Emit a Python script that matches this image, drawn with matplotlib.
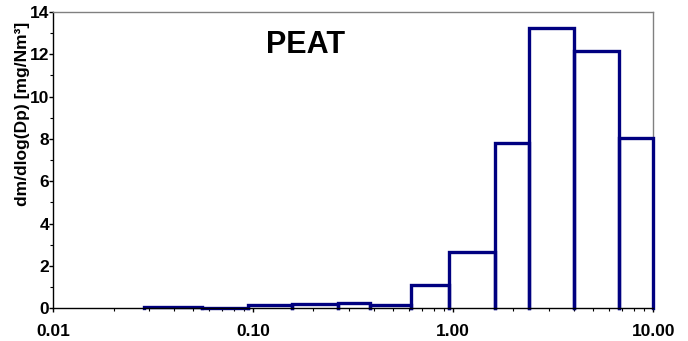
import matplotlib
matplotlib.use("Agg")
import matplotlib.pyplot as plt
import numpy as np
from matplotlib.ticker import FixedLocator, MultipleLocator, LogLocator, NullFormatter

plt.rcParams['font.family'] = ['Liberation Sans', 'DejaVu Sans']
plt.rcParams['font.weight'] = 'bold'

# ELPI stage cut points (um) and measured mass size distribution
edges = [0.0283, 0.0556, 0.0945, 0.157, 0.264, 0.384, 0.616, 0.952, 1.61, 2.40, 4.01, 6.71, 10.0]
dm_dlogdp = [0.07, 0.03, 0.17, 0.19, 0.24, 0.14, 1.09, 2.66, 7.83, 13.26, 12.17, 8.06]
xtick_vals = [0.01, 0.1, 1, 10]
xtick_labels = ["0.01", "0.10", "1.00", "10.00"]

fig = plt.figure(figsize=(6.88, 3.41), dpi=100)
ax = fig.add_axes([0.0775, 0.096, 0.872, 0.869])

# each bar drawn as an open outline (no bottom edge), like the original
for i, h in enumerate(dm_dlogdp):
    x0, x1 = edges[i], edges[i + 1]
    ax.fill_between([x0, x1], 0, h, color='white', zorder=2)
    ax.plot([x0, x0, x1, x1], [0, h, h, 0], color='#000080', linewidth=2.4,
            solid_joinstyle='miter', clip_on=False, zorder=3)

ax.set_xscale('log')
ax.set_xlim(0.01, 10)
ax.set_ylim(0, 14)

ax.xaxis.set_major_locator(FixedLocator(xtick_vals))
ax.set_xticklabels(xtick_labels)
ax.xaxis.set_minor_locator(LogLocator(base=10, subs=np.arange(2, 10)))
ax.xaxis.set_minor_formatter(NullFormatter())
ax.yaxis.set_major_locator(MultipleLocator(2))
ax.yaxis.set_minor_locator(MultipleLocator(1))

ax.tick_params(axis='both', which='major', direction='out', length=3, width=1,
               labelsize=12.5)
ax.tick_params(axis='both', which='minor', direction='out', length=2.5, width=0.8)
ax.tick_params(axis='x', which='major', pad=8)
ax.tick_params(axis='y', which='major', pad=0)
for lab in ax.get_xticklabels() + ax.get_yticklabels():
    lab.set_fontweight('bold')

ax.spines['left'].set_color('black')
ax.spines['bottom'].set_color('black')
ax.spines['top'].set_color('#808080')
ax.spines['right'].set_color('#808080')
for s in ax.spines.values():
    s.set_linewidth(1)
ax.spines['bottom'].set_zorder(4)

fig.text(0.033, 0.666, "dm/dlog(Dp) [mg/Nm³]", rotation=90, fontsize=12.5,
         fontweight='bold', ha='center', va='center')
ax.text(0.42, 0.89, "PEAT", transform=ax.transAxes, fontsize=22,
        fontweight='bold', ha='center', va='center')

fig.savefig("out.png", dpi=100)
